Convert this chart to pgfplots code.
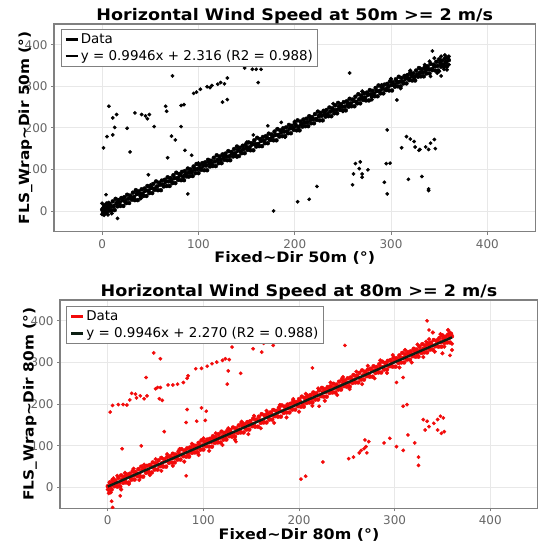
\documentclass[border=0pt]{standalone}
\usepackage{fontspec}
\setmainfont{DejaVu Sans}
\newfontfamily\widesans{DejaVu Sans}[FakeStretch=1.1]
\usepackage{pgfplots}
\usepackage{pgfplotstable}
\pgfplotsset{compat=1.18}

\definecolor{framec}{rgb}{0.50,0.50,0.50}
\definecolor{tickc}{rgb}{0.40,0.40,0.40}
\definecolor{gridc}{rgb}{0.91,0.91,0.91}
\definecolor{datared}{rgb}{0.95,0.04,0.04}
\definecolor{fitdark}{rgb}{0.05,0.12,0.08}

% dense band of points along the 1:1 line
\pgfplotstableread[row sep=\\]{
x y\\
0 3\\3 3\\6 11\\9 11\\12 11\\15 19\\18 19\\21 27\\24 22\\27 29\\
30 33\\33 33\\36 41\\39 41\\42 41\\45 49\\48 49\\51 57\\54 52\\57 59\\
60 63\\63 63\\66 71\\69 71\\72 71\\75 79\\78 79\\81 87\\84 82\\87 89\\
90 93\\93 93\\96 101\\99 101\\102 101\\105 109\\108 109\\111 117\\114 112\\117 119\\
120 123\\123 123\\126 131\\129 131\\132 131\\135 139\\138 139\\141 147\\144 142\\147 149\\
150 153\\153 153\\156 161\\159 161\\162 161\\165 169\\168 169\\171 177\\174 172\\177 179\\
180 183\\183 183\\186 191\\189 191\\192 191\\195 199\\198 199\\201 207\\204 202\\207 209\\
210 213\\213 213\\216 221\\219 221\\222 221\\225 229\\228 229\\231 237\\234 232\\237 239\\
240 243\\243 243\\246 251\\249 251\\252 251\\255 259\\258 259\\261 267\\264 262\\267 269\\
270 273\\273 273\\276 281\\279 281\\282 281\\285 289\\288 289\\291 297\\294 292\\297 299\\
300 303\\303 303\\306 311\\309 311\\312 311\\315 319\\318 319\\321 327\\324 322\\327 329\\
330 333\\333 333\\336 341\\339 341\\342 341\\345 349\\348 349\\351 357\\354 352\\357 359\\
360 363\\
1 -5\\4 -5\\7 3\\10 2\\13 2\\16 11\\19 12\\22 12\\
25 19\\28 19\\31 27\\34 26\\37 26\\40 35\\43 36\\46 36\\
49 43\\52 43\\55 51\\58 50\\61 50\\64 59\\67 60\\70 60\\
73 67\\76 67\\79 75\\82 74\\85 74\\88 83\\91 84\\94 84\\
97 91\\100 91\\103 99\\106 98\\109 98\\112 107\\115 108\\118 108\\
121 115\\124 115\\127 123\\130 122\\133 122\\136 131\\139 132\\142 132\\
145 139\\148 139\\151 147\\154 146\\157 146\\160 155\\163 156\\166 156\\
169 163\\172 163\\175 171\\178 170\\181 170\\184 179\\187 180\\190 180\\
193 187\\196 187\\199 195\\202 194\\205 194\\208 203\\211 204\\214 204\\
217 211\\220 211\\223 219\\226 218\\229 218\\232 227\\235 228\\238 228\\
241 235\\244 235\\247 243\\250 242\\253 242\\256 251\\259 252\\262 252\\
265 259\\268 259\\271 267\\274 266\\277 266\\280 275\\283 276\\286 276\\
289 283\\292 283\\295 291\\298 290\\301 290\\304 299\\307 300\\310 300\\
313 307\\316 307\\319 315\\322 314\\325 314\\328 323\\331 324\\334 324\\
337 331\\340 331\\343 339\\346 338\\349 338\\352 347\\355 348\\358 348\\
2 12\\5 18\\8 16\\11 23\\14 29\\17 26\\20 31\\
23 33\\26 39\\29 37\\32 44\\35 50\\38 47\\41 52\\
44 54\\47 60\\50 58\\53 65\\56 71\\59 68\\62 73\\
65 75\\68 81\\71 79\\74 86\\77 92\\80 89\\83 94\\
86 96\\89 102\\92 100\\95 107\\98 113\\101 110\\104 115\\
107 117\\110 123\\113 121\\116 128\\119 134\\122 131\\125 136\\
128 138\\131 144\\134 142\\137 149\\140 155\\143 152\\146 157\\
149 159\\152 165\\155 163\\158 170\\161 176\\164 173\\167 178\\
170 180\\173 186\\176 184\\179 191\\182 197\\185 194\\188 199\\
191 201\\194 207\\197 205\\200 212\\203 218\\206 215\\209 220\\
212 222\\215 228\\218 226\\221 233\\224 239\\227 236\\230 241\\
233 243\\236 249\\239 247\\242 254\\245 260\\248 257\\251 262\\
254 264\\257 270\\260 268\\263 275\\266 281\\269 278\\272 283\\
275 285\\278 291\\281 289\\284 296\\287 302\\290 299\\293 304\\
296 306\\299 312\\302 310\\305 317\\308 323\\311 320\\314 325\\
317 327\\320 333\\323 331\\326 338\\329 344\\332 341\\335 346\\
338 348\\341 354\\344 352\\347 359\\350 365\\353 362\\356 367\\
359 369\\
}\band

% 50 m: extra points at the band ends and edges
\pgfplotstableread[row sep=\\]{
x y\\
0 -8\\2 -10\\1 8\\3 15\\5 -3\\0 18\\4 6\\6 -9\\8 0\\2 0\\1 -3\\7 20\\10 -6\\
352 372\\356 375\\345 368\\358 340\\355 341\\360 352\\348 332\\340 360\\330 343\\
335 352\\350 336\\360 372\\357 355\\320 338\\310 295\\300 318\\290 303\\280 268\\
270 288\\250 240\\240 258\\200 215\\190 178\\150 165\\140 130\\100 115\\90 82\\50 62\\40 30\\
}\extrafifty

% 50 m: scattered outliers
\pgfplotstableread[row sep=\\]{
x y\\
1.4 152\\4 39\\5 179\\7 252\\11 224\\15 232\\13 201\\11 183\\16 -18\\26 199\\
29 142\\34 236\\41 232\\45 229\\49 232\\47 222\\48 87\\54 203\\66 252\\67 240\\
68 128\\72 180\\76 171\\73 325\\82 203\\82 254\\85 256\\86 146\\89 41\\93 134\\
95 283\\98 286\\102 293\\109 299\\112 297\\114 302\\120 305\\123 309\\127 306\\130 320\\
125 262\\130 268\\148 344\\156 341\\160 341\\165 341\\162 309\\157 183\\172 205\\186 213\\
178 0\\203 22\\215 28\\223 59\\257 332\\260 63\\261 89\\263 114\\268 118\\270 89\\
270 81\\267 102\\276 99\\293 69\\295 114\\299 115\\296 41\\296 195\\306 267\\311 152\\
316 179\\320 173\\324 167\\325 154\\330 148\\336 154\\341 163\\345 172\\346 150\\339 148\\
329 146\\318 76\\332 83\\339 53\\339 49\\341 324\\343 385\\352 325\\
}\outfifty

% 80 m: extra points along the band edges
\pgfplotstableread[row sep=\\]{
x y\\
3 -12\\6 22\\10 28\\14 -5\\18 35\\22 8\\27 45\\33 18\\38 55\\44 30\\50 68\\56 40\\
62 80\\68 52\\75 92\\80 62\\88 105\\95 78\\100 118\\106 88\\113 130\\120 102\\126 142\\
133 115\\140 158\\147 128\\153 172\\160 142\\166 184\\174 155\\180 198\\187 168\\194 212\\
200 182\\207 225\\214 196\\220 238\\227 208\\233 252\\240 222\\246 265\\253 236\\260 278\\
266 248\\272 292\\279 262\\285 305\\292 275\\298 318\\305 288\\311 330\\318 300\\324 343\\
330 313\\336 356\\342 326\\348 368\\352 338\\356 378\\360 345\\358 372\\345 355\\350 322\\
360 330\\333 350\\340 372\\0 -5\\2 12\\1 -14\\4 8\\
}\extraeighty

% 80 m: scattered outliers
\pgfplotstableread[row sep=\\]{
x y\\
2.5 181\\5 197\\11 199\\16 199\\20 198\\23 210\\25 226\\29 224\\30 215\\34 220\\
38 213\\41 220\\15 93\\35 100\\40 264\\48 323\\55 309\\50 237\\55 240\\52 240\\
54 213\\57 209\\59 134\\63 246\\68 246\\73 248\\79 252\\83 262\\84 268\\82 28\\
82 156\\83 187\\93 159\\98 191\\103 183\\102 161\\92 285\\98 286\\104 291\\109 297\\
114 301\\120 305\\123 309\\127 307\\126 280\\125 248\\130 337\\139 274\\134 110\\152 333\\
161 325\\163 346\\173 341\\202 20\\207 27\\214 287\\221 195\\225 61\\248 341\\252 69\\
257 73\\263 83\\265 89\\268 93\\270 98\\271 83\\273 110\\269 114\\289 107\\295 118\\
302 98\\309 89\\302 252\\309 264\\309 195\\313 199\\314 126\\321 107\\325 73\\325 53\\
330 163\\334 159\\332 138\\336 146\\341 154\\345 163\\348 171\\351 167\\345 138\\349 130\\
352 134\\334 400\\336 378\\358 317\\4 -33\\5 -48\\13 -20\\
}\outeighty

\pgfplotsset{
  windaxis/.style={
    scale only axis,
    xmin=-50, xmax=450, ymin=-50, ymax=450,
    xtick={0,100,200,300,400}, ytick={0,100,200,300,400},
    xmajorgrids, ymajorgrids,
    major grid style={draw=gridc, line width=0.8pt},
    axis line style={draw=framec, line width=1.3pt},
    tick style={draw=framec, line width=0.8pt},
    tick align=outside, major tick length=3bp, tick pos=left,
    clip marker paths=true,
    /pgf/number format/assume math mode=true,
    tick label style={font=\fontsize{12}{14}\selectfont, text=tickc},
    xticklabel style={yshift=-1bp},
    title style={font=\widesans\bfseries\fontsize{16}{18}\selectfont, at={(0.5,1)}, anchor=base, yshift=-2bp},
    every axis x label/.style={at={(axis description cs:0.5,0)}, anchor=base, yshift=-31bp, font=\widesans\bfseries\fontsize{14.5}{17}\selectfont},
    legend style={anchor=north west, draw=framec, line width=1pt, fill=white, font=\fontsize{13.5}{15.5}\selectfont, inner xsep=3pt, inner ysep=2.5pt, row sep=1.2pt},
    legend cell align=left,
  },
}

\begin{document}
\begin{tikzpicture}
\path[use as bounding box] (0,0) rectangle (538bp,543bp);

\begin{axis}[windaxis,
  at={(54bp,311.3bp)}, anchor=south west, width=481.5bp, height=207.7bp,
  title={Horizontal Wind Speed at 50m >= 2 m/s},
  xlabel={Fixed\textasciitilde Dir 50m (°)},
  ylabel={FLS\_Wrap\textasciitilde Dir 50m (°)},
  every axis y label/.style={at={(axis description cs:-0.0592,0.5)}, rotate=90, anchor=center, font=\widesans\bfseries\fontsize{14}{17}\selectfont},
  legend style={at={(axis description cs:0.0145,0.976)}},
]
\addplot[only marks, mark=*, mark size=2pt, black,
  legend image code/.code={\draw[draw=black, line width=2.4pt] (0bp,0bp) -- (12bp,0bp);}] table {\band};
\addlegendentry{Data}
\addplot[only marks, mark=*, mark size=1.9pt, black, forget plot] table {\extrafifty};
\addplot[only marks, mark=*, mark size=1.7pt, black, forget plot] table {\outfifty};
\addplot[black, line width=2pt, no marks,
  legend image code/.code={\draw[draw=black, line width=2.4pt] (0bp,0bp) -- (12bp,0bp);}] coordinates {(0,2.316) (360,360.372)};
\addlegendentry{y = 0.9946x + 2.316 (R2 = 0.988)}
\end{axis}

\begin{axis}[windaxis,
  at={(60bp,34.7bp)}, anchor=south west, width=478bp, height=208.3bp,
  title={Horizontal Wind Speed at 80m >= 2 m/s},
  xlabel={Fixed\textasciitilde Dir 80m (°)},
  ylabel={FLS\_Wrap\textasciitilde Dir 80m (°)},
  every axis y label/.style={at={(axis description cs:-0.0628,0.5)}, rotate=90, anchor=center, font=\widesans\bfseries\fontsize{14}{17}\selectfont},
  legend style={at={(axis description cs:0.0136,0.971)}},
]
\addplot[only marks, mark=*, mark size=2pt, datared,
  legend image code/.code={\draw[draw=datared, line width=2.4pt] (0bp,0bp) -- (12bp,0bp);}] table {\band};
\addlegendentry{Data}
\addplot[only marks, mark=*, mark size=1.9pt, datared, forget plot] table {\extraeighty};
\addplot[only marks, mark=*, mark size=1.7pt, datared, forget plot] table {\outeighty};
\addplot[fitdark, line width=2.4pt, no marks,
  legend image code/.code={\draw[draw=fitdark, line width=2.4pt] (0bp,0bp) -- (12bp,0bp);}] coordinates {(0,2.270) (360,360.326)};
\addlegendentry{y = 0.9946x + 2.270 (R2 = 0.988)}
\end{axis}
\end{tikzpicture}
\end{document}
